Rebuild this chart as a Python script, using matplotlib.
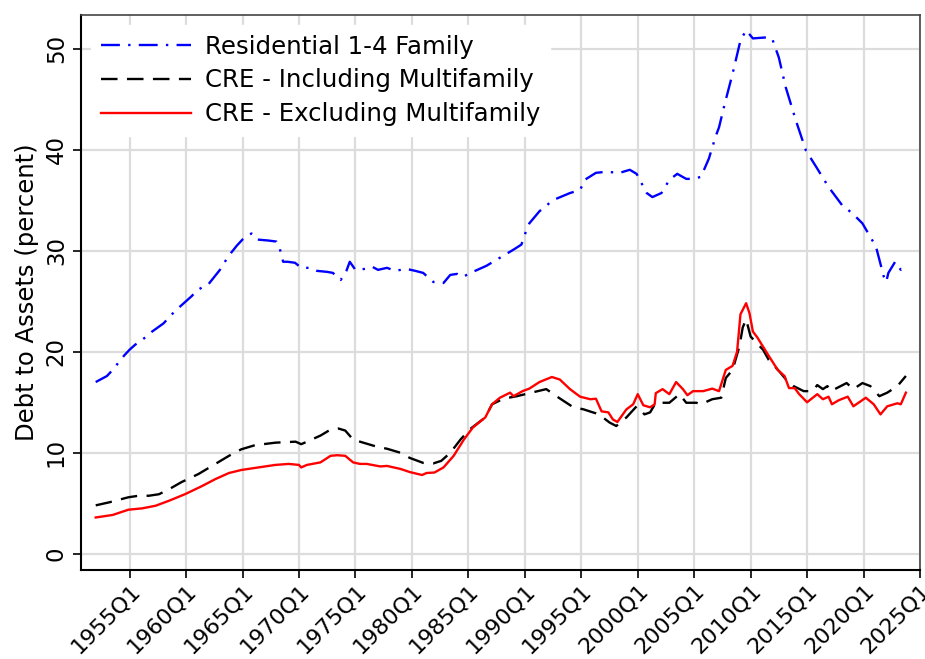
import numpy as np
import matplotlib.pyplot as plt

# 数据，时间用小数年表示
res_t = [1952.0, 1952.5, 1953.0, 1953.5, 1954.0, 1954.5, 1955.0, 1955.5, 1956.0, 1956.5,
         1957.0, 1957.5, 1958.0, 1958.5, 1959.0, 1959.5, 1960.0, 1960.5, 1961.0, 1961.5,
         1962.0, 1962.5, 1963.0, 1963.5, 1964.0, 1964.5, 1965.0, 1965.5, 1965.8, 1966.3,
         1967.3, 1968.0, 1968.3, 1968.6, 1969.0, 1969.65, 1970.2, 1971.0, 1971.6, 1972.5,
         1973.0, 1973.7, 1974.2, 1974.5, 1975.0, 1975.9, 1976.5, 1977.0, 1977.8, 1978.5,
         1979.5, 1980.3, 1981.0, 1981.9, 1982.8, 1983.4, 1984.0, 1984.5, 1985.4, 1986.6,
         1987.8, 1989.0, 1989.7, 1990.1, 1990.4, 1991.3, 1992.5, 1994.0, 1994.9, 1995.3,
         1996.3, 1997.2, 1998.4, 1999.3, 1999.9, 2000.8, 2001.3, 2002.1, 2002.8, 2003.5,
         2004.3, 2004.9, 2005.6, 2006.3, 2006.9, 2007.2, 2007.7, 2008.4, 2009.1, 2009.6,
         2010.2, 2011.4, 2011.9, 2012.5, 2013.1, 2014.0, 2014.9, 2015.8, 2016.9, 2018.1,
         2019.0, 2019.9, 2021.1, 2021.8, 2022.0, 2022.2, 2022.8, 2023.3, 2023.75]
res_v = [17.0, 17.3, 17.6, 18.2, 18.9, 19.6, 20.2, 20.7, 21.1, 21.5,
         22.0, 22.4, 22.8, 23.4, 24.0, 24.5, 25.0, 25.5, 26.1, 26.4,
         26.7, 27.4, 28.1, 29.0, 29.8, 30.5, 31.1, 31.5, 31.7, 31.1,
         31.0, 30.9, 30.2, 28.9, 28.9, 28.8, 28.3, 28.3, 28.0, 27.9,
         27.8, 27.1, 28.0, 28.9, 28.1, 28.2, 28.4, 28.1, 28.3, 28.0,
         28.2, 28.0, 27.8, 26.9, 26.8, 27.6, 27.7, 27.4, 27.9, 28.5,
         29.3, 30.1, 30.6, 31.9, 32.7, 33.9, 35.0, 35.7, 36.0, 37.0,
         37.7, 37.8, 37.7, 38.0, 37.6, 35.7, 35.3, 35.7, 37.0, 37.6,
         37.1, 37.1, 37.3, 39.1, 41.3, 42.2, 44.5, 47.5, 50.8, 51.8,
         51.0, 51.1, 51.0, 49.1, 46.2, 42.9, 39.9, 38.3, 36.3, 34.5,
         33.7, 32.7, 30.4, 27.4, 26.9, 27.8, 28.9, 28.1, 28.5]

inc_t = [1952.0, 1953.2, 1954.9, 1955.8, 1956.7, 1957.6, 1958.5, 1959.6, 1961.1, 1962.6,
         1963.8, 1964.9, 1966.1, 1967.9, 1969.7, 1970.2, 1971.1, 1971.9, 1972.8, 1973.5,
         1974.1, 1974.8, 1975.7, 1976.9, 1977.8, 1979.0, 1979.8, 1981.0, 1981.9, 1982.6,
         1983.4, 1984.3, 1985.1, 1986.5, 1987.1, 1988.1, 1989.3, 1990.4, 1991.9, 1992.8,
         1994.3, 1995.2, 1996.3, 1996.8, 1997.5, 1998.1, 1999.0, 1999.9, 2000.6, 2001.1,
         2001.6, 2002.8, 2003.7, 2004.3, 2005.2, 2005.6, 2006.6, 2007.4, 2007.8, 2008.4,
         2009.0, 2009.3, 2009.6, 2010.0, 2010.5, 2011.1, 2011.6, 2012.5, 2013.1, 2013.8,
         2014.7, 2015.5, 2015.9, 2016.4, 2016.8, 2017.1, 2017.8, 2018.5, 2019.1, 2019.9,
         2020.6, 2021.4, 2022.1, 2023.0, 2023.75]
inc_v = [4.8, 5.1, 5.6, 5.75, 5.75, 5.9, 6.4, 7.1, 7.9, 8.9,
         9.7, 10.35, 10.75, 11.0, 11.1, 10.85, 11.3, 11.7, 12.3, 12.4,
         12.2, 11.3, 11.0, 10.6, 10.4, 10.0, 9.5, 9.0, 8.95, 9.2,
         10.0, 11.3, 12.3, 13.5, 14.8, 15.35, 15.6, 15.9, 16.3, 15.6,
         14.5, 14.3, 13.9, 13.6, 13.0, 12.65, 13.5, 14.6, 13.8, 14.0,
         14.95, 14.95, 15.8, 14.95, 14.95, 14.8, 15.3, 15.45, 17.4, 18.2,
         20.5, 22.4, 23.2, 21.5, 20.9, 20.2, 19.2, 18.1, 17.3, 16.6,
         16.1, 16.1, 16.7, 16.3, 16.6, 16.1, 16.5, 16.9, 16.3, 16.9,
         16.6, 15.6, 15.95, 16.6, 17.6]

exc_t = [1952.0, 1953.5, 1954.9, 1956.1, 1957.3, 1958.5, 1959.9, 1961.4, 1962.6, 1963.8,
         1964.9, 1966.4, 1967.9, 1969.1, 1970.0, 1970.2, 1970.7, 1971.9, 1972.8, 1973.4,
         1974.1, 1974.8, 1975.4, 1976.0, 1977.2, 1977.8, 1979.0, 1979.8, 1980.9, 1981.3,
         1982.0, 1982.8, 1983.7, 1984.6, 1985.4, 1986.5, 1987.1, 1987.8, 1988.7, 1989.0,
         1989.8, 1990.4, 1991.3, 1992.4, 1993.1, 1994.0, 1994.9, 1995.8, 1996.3, 1996.8,
         1997.4, 1997.8, 1998.2, 1999.0, 1999.6, 2000.0, 2000.5, 2001.1, 2001.5, 2001.6,
         2002.2, 2002.8, 2003.4, 2004.0, 2004.4, 2004.9, 2005.8, 2006.6, 2007.2, 2007.8,
         2008.4, 2008.8, 2009.1, 2009.6, 2009.9, 2010.2, 2010.6, 2011.1, 2011.6, 2012.4,
         2013.0, 2013.4, 2013.9, 2014.3, 2015.0, 2015.9, 2016.4, 2016.9, 2017.2, 2017.8,
         2018.6, 2019.1, 2020.2, 2020.9, 2021.5, 2022.1, 2023.0, 2023.3, 2023.75]
exc_v = [3.6, 3.85, 4.37, 4.5, 4.76, 5.26, 5.9, 6.7, 7.4, 8.0,
         8.3, 8.55, 8.8, 8.9, 8.8, 8.55, 8.8, 9.05, 9.7, 9.76,
         9.7, 9.05, 8.9, 8.9, 8.65, 8.7, 8.4, 8.1, 7.8, 8.0,
         8.05, 8.55, 9.7, 11.3, 12.5, 13.5, 14.8, 15.45, 15.95, 15.6,
         16.1, 16.35, 17.0, 17.5, 17.25, 16.3, 15.55, 15.3, 15.35, 14.1,
         14.0, 13.3, 13.05, 14.3, 14.8, 15.8, 14.7, 14.5, 14.8, 15.9,
         16.3, 15.8, 17.0, 16.3, 15.7, 16.1, 16.1, 16.35, 16.1, 18.2,
         18.6, 20.0, 23.7, 24.8, 23.8, 22.0, 21.4, 20.5, 19.6, 18.2,
         17.6, 16.4, 16.4, 15.8, 15.0, 15.8, 15.3, 15.55, 14.8, 15.2,
         15.55, 14.6, 15.45, 14.8, 13.8, 14.6, 14.9, 14.8, 15.95]

tick_years = list(range(1955, 2026, 5))
tick_labels = ['%dQ1' % y for y in tick_years]
y_ticks = [0, 10, 20, 30, 40, 50]

fig = plt.figure(figsize=(9.25, 6.59), dpi=100)
ax = fig.add_axes([0.0876, 0.135, 0.907, 0.842])

ax.plot(res_t, res_v, color='blue', lw=1.7, dashes=(8, 3.5, 1, 3.5), label='Residential 1-4 Family')
ax.plot(inc_t, inc_v, color='black', lw=1.7, dashes=(7, 4), label='CRE - Including Multifamily')
ax.plot(exc_t, exc_v, color='red', lw=1.7, label='CRE - Excluding Multifamily')

# 坐标轴与网格
ax.set_xlim(1950.7, 2025.0)
ax.set_ylim(-1.6, 53.3)
ax.set_xticks(tick_years)
ax.set_xticklabels(tick_labels, rotation=45, ha='right', rotation_mode='anchor', fontsize=16)
ax.set_yticks(y_ticks)
ax.set_yticklabels([str(v) for v in y_ticks], rotation=90, va='center', fontsize=16.5)
ax.tick_params(direction='out', length=6, width=1.2, top=False, right=False)
ax.tick_params(axis='x', pad=1.5)
ax.grid(True, color='#dcdcdc', lw=1.6)
ax.set_axisbelow(True)
for s in ['left', 'bottom']:
    ax.spines[s].set_linewidth(1.5)
    ax.spines[s].set_color('black')
for s in ['top', 'right']:
    ax.spines[s].set_linewidth(1.2)
    ax.spines[s].set_color('#444444')

ax.set_ylabel('Debt to Assets (percent)', fontsize=17.5, labelpad=4)

leg = ax.legend(loc='upper left', fontsize=17.6, handlelength=3.7, handletextpad=0.57,
                labelspacing=0.4, frameon=True, fancybox=False, borderaxespad=0.4,
                borderpad=0.4)
leg.get_frame().set_facecolor('white')
leg.get_frame().set_edgecolor('white')
leg.get_frame().set_alpha(1.0)

plt.savefig('out.png', dpi=100)
